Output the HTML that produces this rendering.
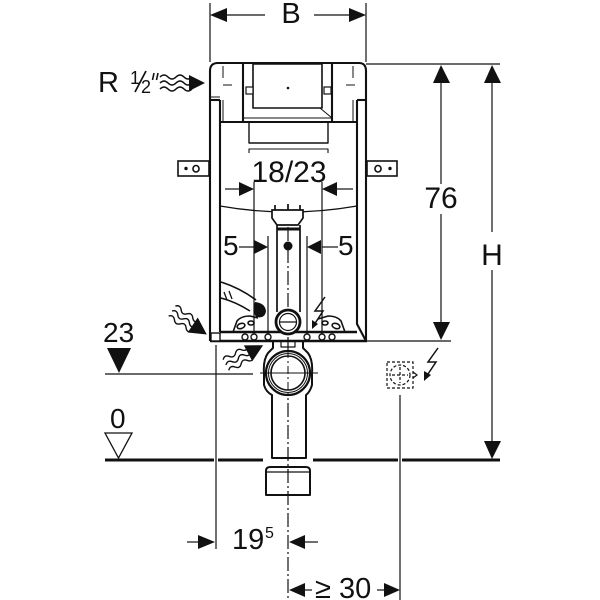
<!DOCTYPE html>
<html><head><meta charset="utf-8"><style>
html,body{margin:0;padding:0;background:#fff;}
svg{display:block}
text{font-family:"Liberation Sans",sans-serif;fill:#111}
</style></head><body>
<svg width="600" height="600" viewBox="0 0 600 600" xmlns="http://www.w3.org/2000/svg">
<g fill="none" stroke="#111" stroke-width="1.2">
  <line x1="210" y1="3" x2="210" y2="62"/>
  <line x1="366" y1="3" x2="366" y2="62"/>
  <line x1="226" y1="15" x2="265" y2="15"/>
  <line x1="314" y1="15" x2="350" y2="15"/>
  <line x1="366" y1="64" x2="500" y2="64"/>
  <line x1="367" y1="341" x2="451" y2="341"/>
  <line x1="441" y1="82" x2="441" y2="184"/>
  <line x1="441" y1="214" x2="441" y2="323"/>
  <line x1="492" y1="82" x2="492" y2="232"/>
  <line x1="492" y1="270" x2="492" y2="442"/>
  <line x1="225" y1="189" x2="240" y2="189"/>
  <line x1="337" y1="189" x2="353" y2="189"/>
  <line x1="254" y1="182" x2="254" y2="334"/>
  <line x1="322" y1="182" x2="322" y2="334"/>
  <line x1="239" y1="247" x2="254" y2="247"/>
  <line x1="322" y1="247" x2="338" y2="247"/>
  <line x1="268" y1="236" x2="268" y2="334"/>
  <line x1="307" y1="236" x2="307" y2="334"/>
  <line x1="105" y1="374" x2="253" y2="374"/>
  <line x1="216" y1="345" x2="216" y2="549"/>
  <line x1="187" y1="542" x2="199" y2="542"/>
  <line x1="304" y1="542" x2="318" y2="542"/>
  <line x1="304" y1="590" x2="312" y2="590"/>
  <line x1="377" y1="590" x2="385" y2="590"/>
  <line x1="400" y1="395" x2="400" y2="600"/>
  <line x1="288" y1="205" x2="288" y2="600" stroke-dasharray="14 3 2 3"/>
</g>

<g stroke="#111" stroke-width="3">
  <line x1="105" y1="460" x2="214" y2="460"/>
  <line x1="218" y1="460" x2="263" y2="460"/>
  <line x1="313" y1="460" x2="398" y2="460"/>
  <line x1="402" y1="460" x2="500" y2="460"/>
</g>

<g fill="#111" stroke="none">
  <polygon points="210,15 227,8 227,22"/>
  <polygon points="366,15 349,8 349,22"/>
  <polygon points="441,65 433,83 450,83"/>
  <polygon points="441,340 433,322 450,322"/>
  <polygon points="492,65 484,83 501,83"/>
  <polygon points="492,459 484,441 501,441"/>
  <polygon points="254,189 239,182 239,196"/>
  <polygon points="322,189 337,182 337,196"/>
  <polygon points="268,247 254,240 254,254"/>
  <polygon points="307,247 321,240 321,254"/>
  <polygon points="215,542 198,535 198,549"/>
  <polygon points="289,542 305,535 305,549"/>
  <polygon points="289,590 305,583 305,597"/>
  <polygon points="400,590 384,583 384,597"/>
  <polygon points="107,348 131,348 119,373"/>
</g>
<polygon points="105,433 132,433 118.5,458" fill="none" stroke="#111" stroke-width="1.3"/>

<text x="291" y="23" font-size="29" text-anchor="middle">B</text>
<text x="98" y="92" font-size="29">R</text>
<text x="130" y="84" font-size="18">1</text>
<line x1="135" y1="92" x2="146" y2="71" stroke="#111" stroke-width="1.7"/>
<text x="141" y="93" font-size="18">2</text>
<g stroke="#111" stroke-width="1.6"><line x1="154" y1="73" x2="152.5" y2="80"/><line x1="158" y1="73" x2="156.5" y2="80"/></g>
<text x="289" y="182" font-size="30" text-anchor="middle">18/23</text>
<text x="223" y="255" font-size="28">5</text>
<text x="338" y="255" font-size="28">5</text>
<text x="441" y="208" font-size="30" text-anchor="middle">76</text>
<text x="492" y="265" font-size="30" text-anchor="middle">H</text>
<text x="103" y="342" font-size="28">23</text>
<text x="110" y="428" font-size="28">0</text>
<text x="232" y="549" font-size="29">19</text>
<text x="265" y="538" font-size="16">5</text>
<text x="315" y="598" font-size="29">≥ 30</text>

<g transform="translate(160,83)">
  <g fill="none" stroke="#111" stroke-width="1.5">
    <path d="M0,-6 q4,-4 8,0 t8,0 t8,0 t8,0"/>
    <path d="M0,0 q4,-4 8,0 t8,0 t8,0 t8,0"/>
    <path d="M0,6 q4,-4 8,0 t8,0 t8,0 t8,0"/>
  </g>
  <polygon points="45,0 29,-8 29,8" fill="#111"/>
</g>
<g transform="translate(172,311) rotate(34)">
  <g fill="none" stroke="#111" stroke-width="1.4">
    <path d="M0,-6 q3.5,-4 7,0 t7,0 t7,0 t7,0"/>
    <path d="M0,0 q3.5,-4 7,0 t7,0 t7,0 t7,0"/>
    <path d="M0,6 q3.5,-4 7,0 t7,0 t7,0 t7,0"/>
  </g>
  <polygon points="42,0 25,-9 25,9" fill="#111"/>
</g>
<g transform="translate(226,365) rotate(-28)">
  <g fill="none" stroke="#111" stroke-width="1.4">
    <path d="M0,-6 q3.5,-4 7,0 t7,0 t7,0 t7,0"/>
    <path d="M0,0 q3.5,-4 7,0 t7,0 t7,0 t7,0"/>
    <path d="M0,6 q3.5,-4 7,0 t7,0 t7,0 t7,0"/>
  </g>
  <polygon points="42,0 25,-9 25,9" fill="#111"/>
</g>

<g fill="none" stroke="#111" stroke-width="2.1" stroke-linejoin="round">
  <path d="M210,341 V71 Q210,63 218,63 H359 Q366,63 366,71 V341"/>
  <line x1="243" y1="63" x2="243" y2="122"/>
  <line x1="332" y1="63" x2="332" y2="122"/>
  <line x1="210" y1="100" x2="220" y2="100"/>
  <line x1="357" y1="100" x2="366" y2="100"/>
  <line x1="220" y1="100" x2="220" y2="332"/>
  <path d="M357,100 V324 L366,341"/>
  <line x1="220" y1="122" x2="357" y2="122"/>
  <rect x="253" y="64" width="69" height="44" stroke-width="1.6"/>
  <line x1="210" y1="341" x2="367" y2="341" stroke-width="2.6"/>
  <line x1="220" y1="332" x2="357" y2="332" stroke-width="2.4"/>
  <path d="M249,122 V143 H328 V122" stroke-width="1.4"/>
  <path d="M249,153 V149 H328 V153" stroke-width="1.1"/>
  <path d="M220,206 Q288,218 357,206" stroke-width="1.3"/>
</g>
<g fill="none" stroke="#111" stroke-width="1">
  <line x1="223" y1="100" x2="223" y2="122"/>
  <line x1="353" y1="100" x2="353" y2="122"/>
  <line x1="223" y1="66" x2="223" y2="78"/>
  <line x1="223" y1="85" x2="232" y2="85"/>
  <line x1="353" y1="66" x2="353" y2="78"/>
  <line x1="346" y1="85" x2="355" y2="85"/>
  <line x1="320" y1="108" x2="332" y2="118"/>
  <line x1="243" y1="118" x2="332" y2="118"/>
  <line x1="210" y1="97" x2="220" y2="97"/>
</g>
<rect x="246" y="87" width="7" height="7" fill="#fff" stroke="#111" stroke-width="1.2"/>
<rect x="324" y="87" width="7" height="7" fill="#fff" stroke="#111" stroke-width="1.2"/>
<circle cx="288" cy="88" r="1.3" fill="#111"/>

<g fill="none" stroke="#111" stroke-width="1.6">
  <rect x="178" y="161" width="31" height="15"/>
  <rect x="193" y="165.5" width="6" height="6.5" rx="3"/>
  <rect x="367" y="161" width="30" height="15"/>
  <rect x="375" y="165.5" width="6" height="6.5" rx="3"/>
</g>
<circle cx="186" cy="168.5" r="1.7" fill="#111"/>
<circle cx="390" cy="168.5" r="1.7" fill="#111"/>

<g fill="none" stroke="#111" stroke-width="1.7">
  <path d="M272,218 V210 H303 V218 L298,225 H277 Z" fill="#fff"/>
  <line x1="275" y1="205" x2="275" y2="210"/>
  <line x1="288" y1="204" x2="288" y2="210"/>
  <line x1="300" y1="205" x2="300" y2="210"/>
  <line x1="277" y1="229" x2="300" y2="229" stroke-width="3"/>
  <line x1="277" y1="225" x2="277" y2="312"/>
  <line x1="300" y1="225" x2="300" y2="312"/>
  <circle cx="288" cy="322" r="12" stroke-width="2.8" fill="#fff"/>
  <circle cx="288" cy="322" r="8.5" stroke-width="1.2"/>
  <line x1="279" y1="322" x2="297" y2="322" stroke-width="1.2"/>
</g>
<circle cx="288" cy="246" r="4.5" fill="#111"/>

<g fill="none" stroke="#111" stroke-width="1.6">
  <path d="M221,282 Q240,288 256,300"/>
  <path d="M221,298 Q236,302 250,311"/>
  <path d="M224,292 l3,8 M229,291 l3,8" stroke-width="1.3"/>
  <path d="M233,332 L237,321 Q241,316 250,316 L258,318"/>
  <ellipse cx="241" cy="326" rx="4" ry="2.5" transform="rotate(-20 241 326)"/>
  <ellipse cx="251" cy="323" rx="3" ry="2"/>
  <path d="M345,332 L341,321 Q337,316 328,316 L318,319"/>
  <ellipse cx="336" cy="326" rx="4" ry="2.5" transform="rotate(20 336 326)"/>
  <ellipse cx="325" cy="323" rx="3" ry="2"/>
</g>
<path d="M255,302 q10,1 11,9 q-1,8 -10,6 q-4,-6 -1,-15 Z" fill="#111"/>
<path d="M325,297 L315,311 L323,311 L314,325" fill="none" stroke="#111" stroke-width="1.5"/>
<polygon points="312,329 312,320 318,324" fill="#111"/>

<rect x="211" y="333" width="9" height="8" fill="#fff" stroke="#111" stroke-width="1.4"/>
<g fill="#fff" stroke="#111" stroke-width="1.4">
  <circle cx="245" cy="337" r="3"/>
  <circle cx="254" cy="337" r="3"/>
  <circle cx="268" cy="337" r="3"/>
  <circle cx="307" cy="337" r="3"/>
  <circle cx="322" cy="337" r="3"/>
  <circle cx="332" cy="337" r="3"/>
</g>

<g fill="none" stroke="#111" stroke-width="2" stroke-linejoin="round">
  <rect x="281" y="341" width="14" height="6" stroke-width="1.2"/>
  <path d="M273,342 V348 L268,353 Q263,360 264,373 L264,385 Q266,392 272,395 V458 H306 V395 Q310,392 312,385 L312,373 Q313,360 308,353 L303,348 V342"/>
  <circle cx="288" cy="373" r="22" fill="#fff" stroke-width="2.2"/>
  <circle cx="288" cy="373" r="19.5" stroke-width="1"/>
  <circle cx="288" cy="373" r="17" stroke-width="1.6"/>
  <path d="M266,495 V471 Q266,467 270,467 H306 Q310,467 310,471 V495 Z"/>
  <line x1="266" y1="472" x2="310" y2="472" stroke-width="1.2"/>
</g>
<line x1="260" y1="373" x2="318" y2="373" stroke="#111" stroke-width="1"/>
<line x1="288" y1="350" x2="288" y2="400" stroke="#111" stroke-width="1" stroke-dasharray="8 3 2 3"/>

<g fill="none" stroke="#111" stroke-width="1.2" stroke-dasharray="3 2">
  <rect x="387" y="362" width="26" height="26"/>
  <circle cx="400" cy="375" r="10"/>
  <line x1="392" y1="375" x2="408" y2="375"/>
  <line x1="400" y1="367" x2="400" y2="383"/>
</g>
<path d="M413,372 l4,3 l-4,3" fill="none" stroke="#111" stroke-width="1.2"/>
<path d="M438,348 L428,362 L436,362 L426,377" fill="none" stroke="#111" stroke-width="1.5"/>
<polygon points="424,381 424,371 431,375" fill="#111"/>
</svg>
</body></html>
